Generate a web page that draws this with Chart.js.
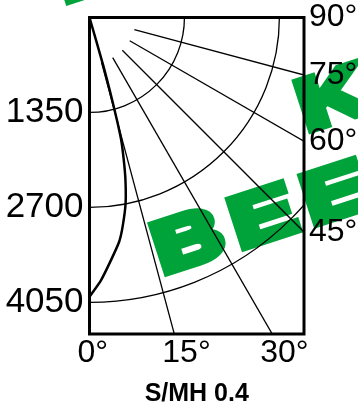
<!DOCTYPE html>
<html>
<head>
<meta charset="utf-8">
<script src="https://cdn.jsdelivr.net/npm/chart.js@4.4.1/dist/chart.umd.min.js"></script>
<style>
  html, body { margin: 0; padding: 0; background: #fff; }
</style>
</head>
<body>
<canvas id="grafica" width="358" height="404"></canvas>
<script>
// curva fotometrica: angulo (grados desde la vertical) e intensidad
const angulos = [0, 2.5, 5, 7.5, 9, 11, 12.5, 13.5, 14.5, 15, 15.5, 16, 17];
const intensidades = [3970, 3740, 3470, 3220, 3010, 2690, 2360, 2090, 1800, 1500, 1100, 700, 0];

const circulos = [1350, 2700, 4050];
const rayos = [15, 30, 45, 60, 75];
const etiquetasAbajo = [0, 15, 30];
const etiquetasDerecha = [45, 60, 75, 90];
const titulo = "S/MH 0.4";
const maxX = 3050;
const maxY = 4500;
const inicioRayo = 660;

const grafica = document.getElementById("grafica");
const fuente = '"Liberation Sans", Arial, sans-serif';
const rad = (g) => (g * Math.PI) / 180;

const puntos = angulos.map((a, i) => ({
  x: intensidades[i] * Math.sin(rad(a)),
  y: intensidades[i] * Math.cos(rad(a)),
}));

// marca de agua verde (texto girado)
const marcaAgua = (ctx, texto, x, y) => {
  ctx.save();
  ctx.translate(x, y);
  ctx.rotate(rad(-18));
  ctx.scale(1.33, 1);
  ctx.fillText(texto, 0, 0);
  ctx.strokeText(texto, 0, 0);
  ctx.restore();
};

const rejilla = {
  id: "rejilla",
  beforeDraw(chart) {
    const ctx = chart.ctx;
    ctx.save();
    ctx.fillStyle = "#00a33a";
    ctx.strokeStyle = "#00a33a";
    ctx.lineWidth = 8;
    ctx.lineJoin = "miter";
    ctx.font = "bold 72px " + fuente;
    ctx.letterSpacing = "9px";
    marcaAgua(ctx, "BEE", 162.6, 273.8);
    marcaAgua(ctx, "K", 306.7, 130.9);
    marcaAgua(ctx, "E", 63.9, 2.6);
    ctx.restore();
  },
  beforeDatasetsDraw(chart) {
    const { ctx, chartArea: a, scales: { x, y } } = chart;
    const cx = x.getPixelForValue(0);
    const cy = y.getPixelForValue(0);
    const k = (x.getPixelForValue(1000) - cx) / 1000;
    ctx.save();
    ctx.beginPath();
    ctx.rect(a.left, a.top, a.width, a.height);
    ctx.clip();
    ctx.strokeStyle = "#000";
    ctx.lineWidth = 1.3;
    circulos.forEach((r) => {
      ctx.beginPath();
      ctx.arc(cx, cy, r * k, 0, Math.PI / 2);
      ctx.stroke();
    });
    rayos.forEach((g) => {
      const s = Math.sin(rad(g));
      const c = Math.cos(rad(g));
      ctx.beginPath();
      ctx.moveTo(cx + inicioRayo * k * s, cy + inicioRayo * k * c);
      ctx.lineTo(cx + 8000 * k * s, cy + 8000 * k * c);
      ctx.stroke();
    });
    ctx.restore();
  },
  afterDatasetsDraw(chart) {
    const { ctx, chartArea: a } = chart;
    ctx.save();
    ctx.strokeStyle = "#000";
    ctx.lineWidth = 3;
    ctx.strokeRect(a.left, a.top, a.width, a.height);
    ctx.restore();
  },
};

const ticksFuente = { family: fuente, size: 32 };

new Chart(grafica, {
  type: "scatter",
  data: {
    datasets: [
      {
        data: puntos,
        showLine: true,
        borderColor: "#000",
        borderWidth: 2.5,
        pointRadius: 0,
        tension: 0.2,
        yAxisID: "y",
      },
    ],
  },
  options: {
    responsive: false,
    animation: false,
    layout: { padding: { top: 17.5 } },
    plugins: { legend: { display: false }, tooltip: { enabled: false } },
    scales: {
      x: {
        type: "linear",
        position: "bottom",
        min: 0,
        max: maxX,
        grid: { display: false, drawTicks: false },
        border: { display: false },
        ticks: {
          font: ticksFuente,
          color: "#000",
          padding: 0,
          align: "start",
          labelOffset: -12,
          autoSkip: false,
          maxRotation: 0,
          callback: (v, i) => etiquetasAbajo[i] + "°",
        },
        afterBuildTicks: (s) => {
          s.ticks = etiquetasAbajo.map((g) => ({ value: maxY * Math.tan(rad(g)) }));
        },
        afterFit: (s) => {
          s.height = 70;
          s.paddingLeft = 0;
          s.paddingRight = 0;
        },
        title: {
          display: true,
          text: titulo,
          color: "#000",
          font: { family: fuente, size: 25, weight: "bold", lineHeight: 0.8 },
          padding: { top: 0, bottom: 0 },
        },
      },
      y: {
        type: "linear",
        position: "left",
        reverse: true,
        min: 0,
        max: maxY,
        grid: { display: false, drawTicks: false },
        border: { display: false },
        ticks: {
          font: { family: fuente, size: 35 },
          color: "#000",
          padding: 6,
          autoSkip: false,
          callback: (v) => String(v),
        },
        afterBuildTicks: (s) => {
          s.ticks = circulos.map((v) => ({ value: v }));
        },
        afterFit: (s) => {
          s.width = 89.5;
          s.paddingTop = 0;
          s.paddingBottom = 0;
        },
      },
      y2: {
        type: "linear",
        axis: "y",
        position: "right",
        reverse: true,
        min: 0,
        max: maxY,
        grid: { display: false, drawTicks: false },
        border: { display: false },
        ticks: {
          font: ticksFuente,
          color: "#000",
          padding: 5,
          autoSkip: false,
          callback: (v, i) => etiquetasDerecha[i] + "°",
        },
        afterBuildTicks: (s) => {
          s.ticks = etiquetasDerecha.map((g) => ({ value: maxX / Math.tan(rad(g)) }));
        },
        afterFit: (s) => {
          s.width = 54;
          s.paddingTop = 0;
          s.paddingBottom = 0;
        },
      },
    },
  },
  plugins: [rejilla],
});
</script>
</body>
</html>
